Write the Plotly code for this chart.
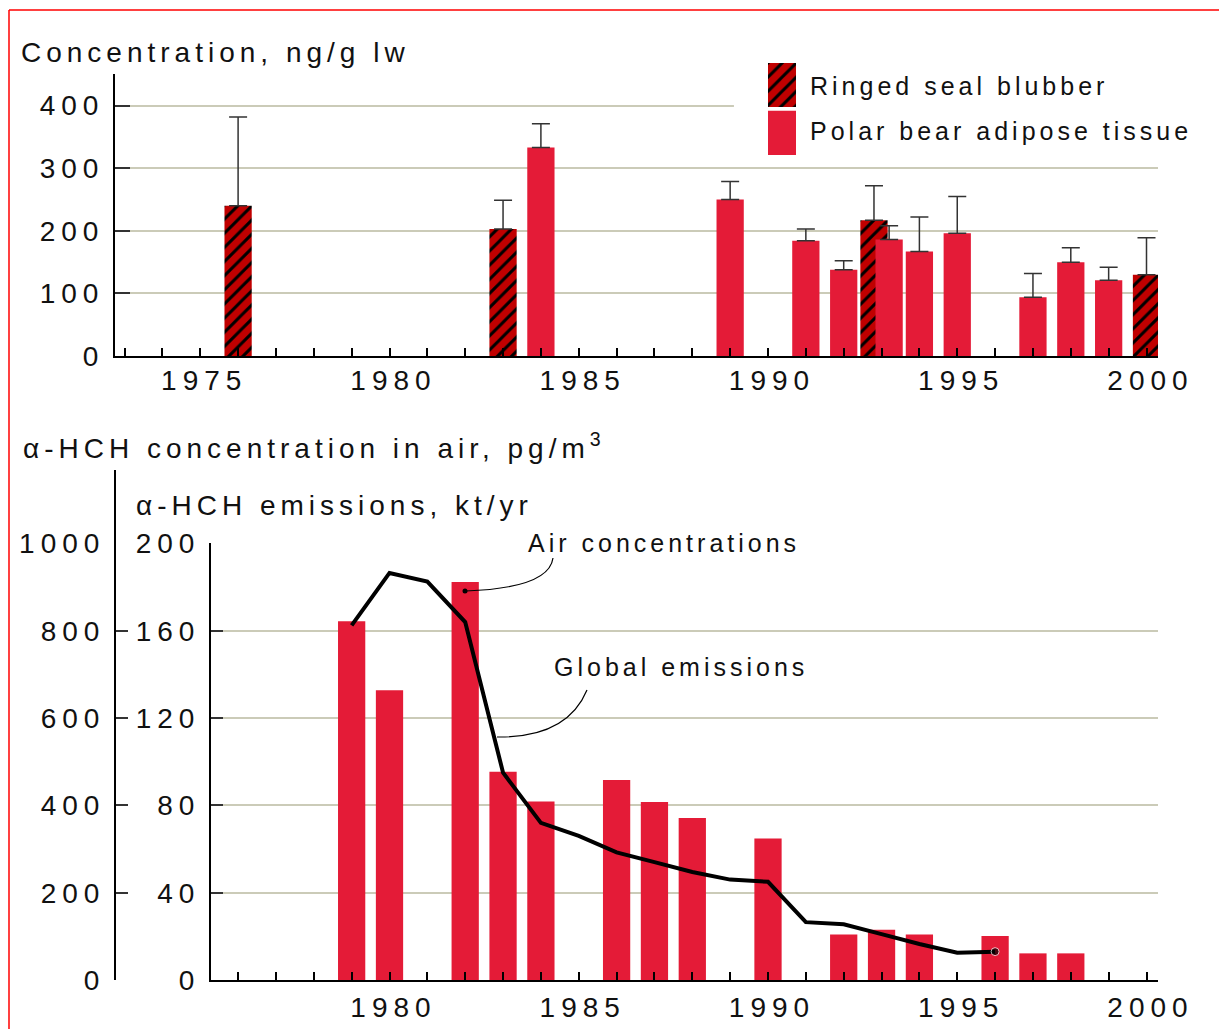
import plotly.graph_objects as go

W, H = 1219, 1029

# ---- top panel: alpha-HCH in biota, ng/g lw ----
seal_years = [1976, 1983, 1992.8, 2000]
seal_conc = [240, 203, 217, 130]
seal_err = [142, 46, 55, 59]

bear_years = [1984, 1989, 1991, 1992, 1993.2, 1994, 1995, 1997, 1998, 1999]
bear_conc = [333, 250, 184, 138, 186, 167, 196, 94, 150, 121]
bear_err = [38, 29, 19, 14, 22, 55, 59, 38, 23, 21]

# ---- bottom panel: air concentrations (pg/m3) and global emissions (kt/yr) ----
air_years = [1979, 1980, 1982, 1983, 1984, 1986, 1987, 1988, 1990, 1992, 1993, 1994, 1996, 1997, 1998]
air_conc = [822, 664, 912, 477, 409, 458, 408, 371, 324, 104, 115, 104, 101, 61, 61]

emis_years = [1979, 1980, 1981, 1982, 1983, 1984, 1985, 1986, 1987, 1988,
              1989, 1990, 1991, 1992, 1993, 1994, 1995, 1996]
emis = [162.5, 186.5, 182.5, 164, 95, 72, 66, 58.5, 54, 49.5,
        46, 45, 26.5, 25.5, 21, 16.5, 12.5, 13]

year_ticks = [1975, 1980, 1985, 1990, 1995, 2000]
top_yticks = [0, 100, 200, 300, 400]
air_ticks = [0, 200, 400, 600, 800, 1000]
emis_ticks = [0, 40, 80, 120, 160, 200]

RED = "#e41b37"
DARK = "#c00000"
GRID = "#cbcbb8"
FONT = "Liberation Sans, Arial, Helvetica, sans-serif"


def px(x):
    return x / W


def py(y):
    return 1 - y / H


hatch = dict(shape="/", fgcolor="black", bgcolor=DARK, size=10, solidity=0.3, fillmode="replace")
err_style = dict(type="data", symmetric=False, color="#333", thickness=1.5, width=9)

fig = go.Figure()

fig.add_bar(x=seal_years, y=seal_conc, width=0.72, xaxis="x", yaxis="y",
            marker=dict(color=DARK, line_width=0, pattern=hatch),
            error_y=dict(array=seal_err, arrayminus=[0] * len(seal_err), **err_style))
fig.add_bar(x=bear_years, y=bear_conc, width=0.72, xaxis="x", yaxis="y",
            marker=dict(color=RED, line_width=0),
            error_y=dict(array=bear_err, arrayminus=[0] * len(bear_err), **err_style))

fig.add_bar(x=air_years, y=air_conc, width=0.72, xaxis="x2", yaxis="y2",
            marker=dict(color=RED, line_width=0))
fig.add_scatter(x=emis_years, y=emis, xaxis="x2", yaxis="y3", mode="lines+markers",
                line=dict(color="black", width=4),
                marker=dict(color="black", size=[0] * (len(emis) - 1) + [8]))

# legend keys on a hidden little axis pair
fig.add_bar(x=[0], y=[44], base=[48], width=1, xaxis="x3", yaxis="y4",
            marker=dict(color=DARK, line_width=0, pattern=hatch))
fig.add_bar(x=[0], y=[44.3], base=[0], width=1, xaxis="x3", yaxis="y4",
            marker=dict(color=RED, line_width=0))

tickfont = dict(family=FONT, size=28, color="#111")
xcommon = dict(tickvals=year_ticks, ticks="inside", ticklen=8, tickwidth=1.5, tickcolor="black",
               minor=dict(dtick=1, ticks="inside", ticklen=8, tickwidth=1.5, tickcolor="black"),
               showline=True, linecolor="black", linewidth=2, showgrid=False, zeroline=False,
               tickfont=tickfont, ticklabelshift=4)
ycommon = dict(ticks="inside", tickwidth=1.5, tickcolor="#333", showline=True, linecolor="black",
               linewidth=2, zeroline=False, tickfont=tickfont)

s = 37.85  # px per year, 1980 sits at 389.5 px
fig.update_layout(
    width=W, height=H, autosize=False,
    margin=dict(l=0, r=0, t=0, b=0, autoexpand=False),
    paper_bgcolor="white", plot_bgcolor="rgba(0,0,0,0)",
    showlegend=False, barmode="overlay",
    font=dict(family=FONT, color="#111"),
    xaxis=dict(domain=[px(115), px(1158)], range=[1980 + (115 - 389.5) / s, 1980 + (1158 - 389.5) / s],
               anchor="y", ticklabelstandoff=-2, **xcommon),
    yaxis=dict(domain=[py(356), py(74)], range=[0, 450.6], anchor="x", tickvals=top_yticks,
               ticklen=15, showgrid=True, gridcolor=GRID, gridwidth=1.5, ticklabelstandoff=3, **ycommon),
    xaxis2=dict(domain=[px(211), px(1158)], range=[1980 + (211 - 389.5) / s, 1980 + (1158 - 389.5) / s],
                anchor="y2", ticklabelstandoff=1, **xcommon),
    yaxis2=dict(domain=[py(980), py(542.6)], range=[0, 1002], anchor="free", position=px(115),
                tickvals=air_ticks, ticklen=12, showgrid=True, gridcolor=GRID, gridwidth=1.5,
                ticklabelstandoff=3, **ycommon),
    yaxis3=dict(overlaying="y2", anchor="x2", side="left", range=[0, 200.4], tickvals=emis_ticks,
                ticklen=12, showgrid=False, ticklabelstandoff=3, **ycommon),
    xaxis3=dict(domain=[px(768), px(796)], range=[-0.5, 0.5], anchor="y4", visible=False),
    yaxis4=dict(domain=[py(155), py(63)], range=[0, 92], anchor="x3", visible=False),
)

shapes = [
    # legend area hides the end of the 400 gridline
    dict(type="rect", xref="x", yref="y", layer="between", x0=1989.1, x1=2000.6, y0=385, y1=450,
         fillcolor="white", line_width=0),
    # gap in the top gridline behind the "Air concentrations" label
    dict(type="rect", xref="x2", yref="y2", layer="between", x0=1983.18, x1=1991.27, y0=975, y1=1002,
         fillcolor="white", line_width=0),
    # outer axis runs higher than the inner one
    dict(type="line", xref="paper", yref="paper", x0=px(115), x1=px(115), y0=py(543), y1=py(470),
         line=dict(color="black", width=2)),
    # leader lines
    dict(type="path", xref="paper", yref="paper",
         path=f"M {px(553)} {py(558)} Q {px(549)} {py(588)} {px(466)} {py(591)}",
         line=dict(color="black", width=1.2)),
    dict(type="circle", xref="paper", yref="paper", x0=px(462.5), x1=px(467.5), y0=py(593.5), y1=py(588.5),
         fillcolor="black", line_width=0),
    dict(type="path", xref="paper", yref="paper",
         path=f"M {px(587)} {py(690)} Q {px(567)} {py(738)} {px(497)} {py(737)}",
         line=dict(color="black", width=1.2)),
    # red frame (top and left edges; the rest is cut off)
    dict(type="line", xref="paper", yref="paper", x0=px(9), x1=1, y0=py(10), y1=py(10),
         line=dict(color="red", width=1.5)),
    dict(type="line", xref="paper", yref="paper", x0=px(9), x1=px(9), y0=py(10), y1=0,
         line=dict(color="red", width=1.5)),
]
fig.update_layout(shapes=shapes)


def label(text, x, y, size):
    fig.add_annotation(text=text, xref="paper", yref="paper", x=px(x), y=py(y),
                       xanchor="left", yanchor="middle", align="left", showarrow=False,
                       font=dict(family=FONT, size=size, color="#111"))


label("Concentration, ng/g lw", 19, 53, 28)
label("Ringed seal blubber", 808, 86, 25)
label("Polar bear adipose tissue", 808, 131, 25)
label("α-HCH concentration in air, pg/m<sup>3</sup>", 21, 446, 28)
label("α-HCH emissions, kt/yr", 134, 505, 28)
label("Air concentrations", 526, 543, 25)
label("Global emissions", 552, 667, 25)

# no page margins, and the original typesetting is widely tracked
page_js = """
document.documentElement.style.margin = '0';
document.documentElement.style.overflow = 'hidden';
document.body.style.margin = '0';
document.body.style.padding = '0';
document.body.style.overflow = 'hidden';
document.querySelectorAll('.main-svg text').forEach(function (t) {
    var s = '6px';
    if (t.classList.contains('annotation-text')) {
        var c = t.textContent;
        s = (c.indexOf('Concentration') === 0 || c.indexOf('α-HCH') === 0) ? '5px' : '4px';
    }
    t.style.letterSpacing = s;
});
"""

fig.write_html("out.html", config={"displayModeBar": False}, post_script=page_js)
